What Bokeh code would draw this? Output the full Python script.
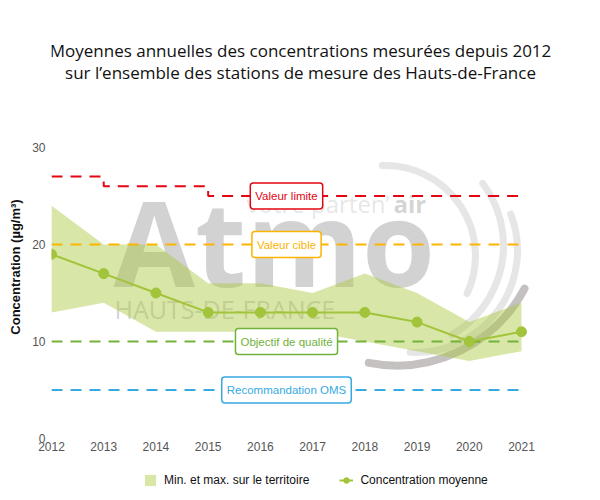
import math
from bokeh.plotting import figure
from bokeh.layouts import column
from bokeh.models import Range1d, FixedTicker, Label, Legend, LegendItem, ColumnDataSource
from bokeh.embed import file_html
from bokeh.resources import INLINE

# ---------------- data ----------------
years = [2012, 2013, 2014, 2015, 2016, 2017, 2018, 2019, 2020, 2021]
mean_conc = [19, 17, 15, 13, 13, 13, 13, 12, 10, 11]
min_conc = [13, 14, 11, 11, 11, 11, 10, 9, 8, 9]
max_conc = [24, 20, 20, 16, 16, 15, 17, 15, 12, 14]
valeur_limite = [27, 26, 26, 25, 25, 25, 25, 25, 25, 25]
valeur_cible = 20
objectif_qualite = 10
recommandation_oms = 5
y_ticks = [0, 10, 20, 30]

title_lines = ["Moyennes annuelles des concentrations mesurées depuis 2012",
               "sur l\u2019ensemble des stations de mesure des Hauts-de-France"]
legend_labels = ["Min. et max. sur le territoire", "Concentration moyenne"]

RED = "#e30613"
ORANGE = "#fbb400"
GREEN_Q = "#72b23a"
BLUE = "#36a9e1"
BAND = "#a8c73c"
MEAN = "#a2c43a"

# page geometry: where 2012/2021 and 0/30 sit in the picture
FX0, FX1, FY_TOP, FY_BOT = 51, 521, 147, 438
X_MIN, X_MAX, Y_MIN, Y_MAX = 2012, 2021, 0, 30
W, H, H_LEG = 600, 460, 40
B_LEFT, B_RIGHT, B_TOP, B_BOT = FX0, 0, 30, H - FY_BOT   # frame borders


def xd(px):
    return X_MIN + (px - FX0) * (X_MAX - X_MIN) / (FX1 - FX0)


def yd(py):
    return Y_MIN + (FY_BOT - py) * (Y_MAX - Y_MIN) / (FY_BOT - FY_TOP)


p = figure(width=W, height=H, x_range=Range1d(X_MIN, xd(W - B_RIGHT)), y_range=Range1d(Y_MIN, yd(B_TOP)),
           output_backend="svg", toolbar_location=None,
           min_border_left=B_LEFT, min_border_right=B_RIGHT, min_border_top=B_TOP,
           min_border_bottom=B_BOT)
p.outline_line_color = None
p.grid.visible = False
p.background_fill_color = "white"

for ax in (p.xaxis[0], p.yaxis[0]):
    ax.axis_line_color = None
    ax.major_tick_line_color = None
    ax.minor_tick_line_color = None
    ax.major_tick_out = 0
    ax.major_tick_in = 0
    ax.major_label_text_font = "Liberation Sans"
    ax.major_label_text_font_size = "12px"
    ax.major_label_text_color = "#555555"
p.xaxis.ticker = FixedTicker(ticks=years)
p.yaxis.ticker = FixedTicker(ticks=y_ticks)
p.xaxis.major_label_standoff = 3
p.yaxis.major_label_standoff = 6
p.yaxis.axis_label = "Concentration (µg/m³)" + "\u00a0" * 18
p.yaxis.axis_label_text_font = "Liberation Sans"
p.yaxis.axis_label_text_font_style = "bold"
p.yaxis.axis_label_text_font_size = "13px"
p.yaxis.axis_label_text_color = "#111111"
p.yaxis.axis_label_standoff = 6

# ---------------- watermark ----------------
wm_col = "#6a6a6a"
p.add_layout(Label(x=xd(113), y=yd(289 - 48), text="Atmo", text_font="Open Sans", text_font_style="bold",
                   text_font_size="118px", text_color=wm_col, text_alpha=0.3,
                   text_baseline="alphabetic", level="underlay"))
p.add_layout(Label(x=xd(114), y=yd(320 - 12), text="HAUTS-DE-FRANCE", text_font="Open Sans",
                   text_font_size="25px", text_color=wm_col, text_alpha=0.3,
                   text_baseline="alphabetic", level="underlay"))
p.add_layout(Label(x=xd(246), y=yd(213 - 10), text="votre parten\u2019", text_font="Open Sans",
                   text_font_size="24px", text_color=wm_col, text_alpha=0.18,
                   text_baseline="alphabetic", level="underlay"))
p.add_layout(Label(x=xd(393), y=yd(213 - 10), text="air", text_font="Open Sans", text_font_style="bold",
                   text_font_size="24px", text_color=wm_col, text_alpha=0.3,
                   text_baseline="alphabetic", level="underlay"))

arcs = [
    ((385, 255), 90, 92, -25, "#9a9a9a", 0.25, 7),
    ((400, 245), 103, 37, -60, "#9a9a9a", 0.25, 7),
    ((415, 250), 102, 21, -93, "#9a9a9a", 0.25, 7),
    ((396, 220), 145, -28, -101, "#6e6464", 0.4, 8),
]
for (cx, cy), r, a0, a1, col, al, lw in arcs:
    ar = p.arc(x=[xd(cx)], y=[yd(cy)], radius=r, radius_units="screen",
               start_angle=math.radians(a0), end_angle=math.radians(a1), direction="clock",
               line_color=col, line_alpha=al, line_width=lw, line_cap="round")
    ar.level = "underlay"

# ---------------- data glyphs ----------------
src = ColumnDataSource(dict(year=years, mean=mean_conc, lo=min_conc, hi=max_conc, lim=valeur_limite))
band_style = dict(fill_color=BAND, fill_alpha=0.45)
line_style = dict(line_color=MEAN, line_width=2)
mark_style = dict(size=10, fill_color=MEAN, line_color=MEAN)

p.varea(x="year", y1="lo", y2="hi", source=src, **band_style)

dash = "11 8"
p.step(x="year", y="lim", source=src, mode="after", line_color=RED, line_width=2, line_dash=dash)
p.line(x=[X_MIN, X_MAX], y=[valeur_cible] * 2, line_color=ORANGE, line_width=2, line_dash=dash)
p.line(x=[X_MIN, X_MAX], y=[objectif_qualite] * 2, line_color=GREEN_Q, line_width=2, line_dash=dash)
p.line(x=[X_MIN, X_MAX], y=[recommandation_oms] * 2, line_color=BLUE, line_width=2, line_dash=dash)

p.line(x="year", y="mean", source=src, **line_style)
p.scatter(x="year", y="mean", source=src, **mark_style)

# ---------------- boxed labels ----------------
x_mid = (X_MIN + X_MAX) / 2
for txt, yv, col in [("Valeur limite", 25, RED), ("Valeur cible", valeur_cible, ORANGE),
                     ("Objectif de qualité", objectif_qualite, GREEN_Q),
                     ("Recommandation OMS", recommandation_oms, BLUE)]:
    p.add_layout(Label(x=x_mid, y=yv, text=txt, text_align="center", text_baseline="middle",
                       text_font="Liberation Sans", text_font_size="11.5px", text_color=col,
                       background_fill_color="white", border_line_color=col, border_line_width=1.5,
                       padding=(5, 7), border_radius=3))

# ---------------- title ----------------
for line, py in zip(title_lines, (50, 72)):
    p.add_layout(Label(x=xd(300), y=yd(py), text=line, text_align="center", text_baseline="middle",
                       text_font="Open Sans", text_font_size="17px", text_color="#111111"))

# ---------------- legend strip (own small figure under the chart) ----------------
lf = figure(width=W, height=H_LEG, x_range=Range1d(0, 1), y_range=Range1d(0, 1),
            output_backend="svg", toolbar_location=None, x_axis_type=None, y_axis_type=None,
            min_border_left=B_LEFT, min_border_right=B_RIGHT, min_border_top=0, min_border_bottom=0)
lf.outline_line_color = None
# legend-only renderers: their single sample lies outside the strip's visible range
proxy = ColumnDataSource(dict(x=[-5, -4], lo=[-5, -5], hi=[-4, -4], y=[-5, -5]))
r_band = lf.varea(x="x", y1="lo", y2="hi", source=proxy, **band_style)
r_line = lf.line(x="x", y="y", source=proxy, **line_style)
r_mark = lf.scatter(x="x", y="y", source=proxy, **mark_style)
legend = Legend(items=[LegendItem(label=legend_labels[0], renderers=[r_band]),
                       LegendItem(label=legend_labels[1], renderers=[r_line, r_mark])],
                orientation="horizontal", location=(143 - B_LEFT, 13), padding=0, margin=0, spacing=30,
                glyph_width=14, glyph_height=14, label_height=14, label_standoff=7,
                label_text_font="Liberation Sans", label_text_font_size="12px",
                label_text_color="#111111", border_line_color=None, background_fill_alpha=0)
lf.add_layout(legend, "center")

open("out.html", "w").write(file_html(column(p, lf, spacing=0), INLINE))
